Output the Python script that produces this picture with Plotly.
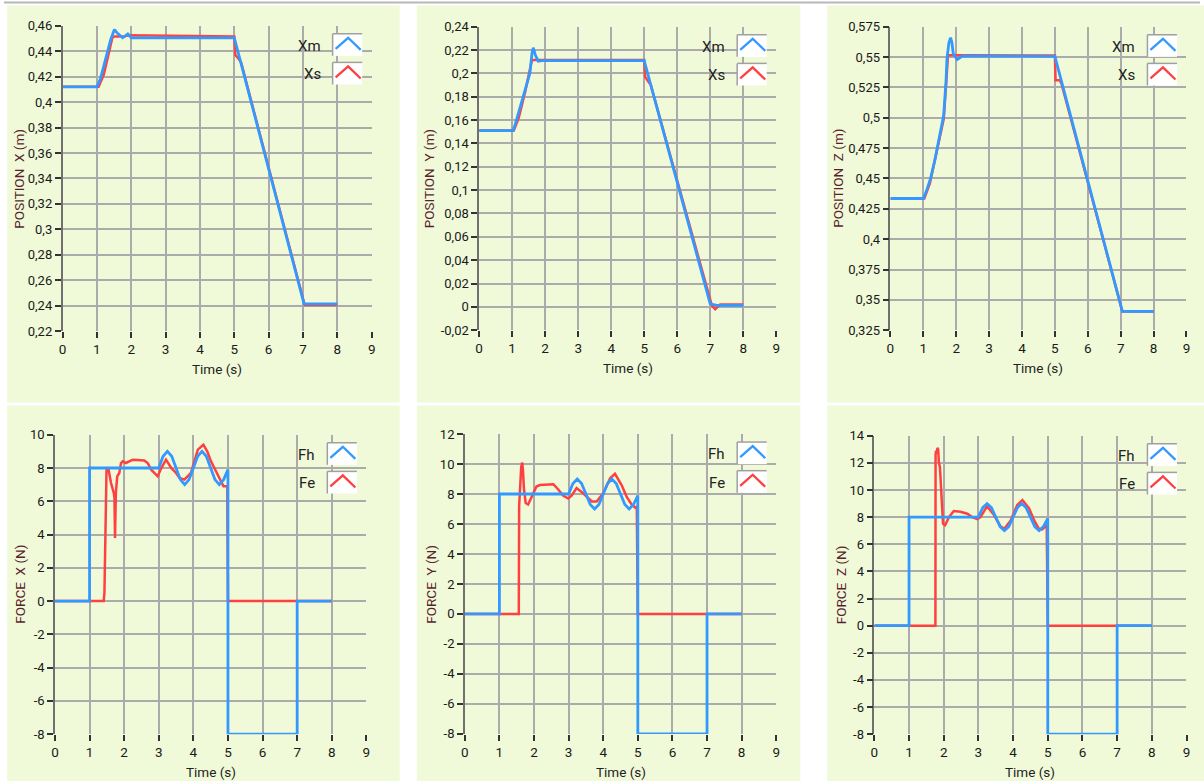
import plotly.graph_objects as go

# ---------------- data ----------------
time_ticks = [0, 1, 2, 3, 4, 5, 6, 7, 8, 9]

# Position X
xm_t = [0, 1.0, 1.1, 1.26, 1.4, 1.51, 1.6, 1.75, 1.9, 2.0, 5.0, 5.2, 7.03, 8.0]
xm_v = [0.412, 0.412, 0.418, 0.435, 0.449, 0.457, 0.454, 0.4505, 0.4535, 0.4505, 0.4505, 0.430, 0.2415, 0.2415]
xs_t = [0, 1.05, 1.2, 1.3, 1.45, 1.5, 1.8, 1.9, 5.0, 5.03, 5.1, 5.2, 7.05, 8.0]
xs_v = [0.412, 0.412, 0.4215, 0.434, 0.4505, 0.4515, 0.4515, 0.4525, 0.4515, 0.437, 0.435, 0.431, 0.2405, 0.2405]

# Position Y
ym_t = [0, 1.03, 1.1, 1.23, 1.4, 1.54, 1.6, 1.64, 1.7, 1.79, 1.9, 5.0, 7.0, 7.2, 8.0]
ym_v = [0.151, 0.151, 0.157, 0.170, 0.186, 0.2004, 0.217, 0.222, 0.216, 0.2105, 0.211, 0.211, 0.0025, 0.0012, 0.0012]
ys_t = [0, 1.05, 1.2, 1.4, 1.55, 1.6, 5.0, 5.03, 5.1, 5.2, 7.05, 7.15, 7.3, 8.0]
ys_v = [0.151, 0.151, 0.162, 0.185, 0.205, 0.2115, 0.2115, 0.197, 0.194, 0.190, 0.001, -0.002, 0.002, 0.002]

# Position Z
zm_t = [0, 1.0, 1.1, 1.22, 1.35, 1.47, 1.62, 1.69, 1.72, 1.78, 1.83, 1.87, 1.91, 2.03, 2.2, 5.0, 7.05, 8.0]
zm_v = [0.4335, 0.4335, 0.44, 0.45, 0.465, 0.4805, 0.502, 0.530, 0.549, 0.562, 0.566, 0.562, 0.553, 0.548, 0.551, 0.5505, 0.3405, 0.3405]
zs_t = [0, 1.03, 1.2, 1.47, 1.62, 1.7, 1.75, 2.4, 5.0, 5.02, 5.15, 5.2, 7.05, 8.0]
zs_v = [0.4335, 0.4335, 0.446, 0.479, 0.499, 0.53, 0.5515, 0.5515, 0.5512, 0.531, 0.531, 0.528, 0.3405, 0.3405]

# Human force Fh (same command in the three axes)
fh_t = [0, 1, 1, 3, 3.125, 3.25, 3.375, 3.5, 3.625, 3.75, 3.875, 4.0, 4.125, 4.25,
        4.375, 4.5, 4.625, 4.75, 4.875, 5.0, 5.0, 7.0, 7.0, 8.0]
fh_v = [0, 0, 8, 8, 8.7, 9.0, 8.7, 8.0, 7.3, 7.0, 7.3, 8.0, 8.7, 9.0,
        8.7, 8.0, 7.3, 7.0, 7.3, 7.9, -8, -8, 0, 0]

# Environment force Fe
fex_t = [0, 1.41, 1.43, 1.45, 1.47, 1.49, 1.55, 1.62, 1.70, 1.72, 1.736, 1.76, 1.80, 1.86,
         1.91, 1.96, 2.05, 2.15, 2.25, 2.58, 2.68, 2.78, 2.87, 2.97, 3.05, 3.21, 3.36, 3.50,
         3.60, 3.74, 3.93, 4.13, 4.29, 4.40, 4.51, 4.66, 4.80, 4.87, 4.98, 5.0, 8.0]
fex_v = [0, 0, 0.5, 4.0, 5.8, 7.9, 7.9, 7.1, 6.5, 6.2, 3.8, 6.5, 7.5, 7.7,
         8.3, 8.4, 8.3, 8.4, 8.5, 8.45, 8.3, 7.9, 7.7, 7.5, 7.9, 8.5, 8.0, 7.7,
         7.4, 7.3, 7.7, 9.1, 9.4, 9.0, 8.4, 7.8, 7.2, 6.9, 6.9, 0, 0]
fey_t = [0, 1.56, 1.57, 1.60, 1.63, 1.66, 1.68, 1.71, 1.76, 1.83, 1.93, 2.07, 2.17, 2.46,
         2.56, 2.70, 2.84, 2.99, 3.09, 3.23, 3.42, 3.67, 3.81, 4.0, 4.2, 4.34, 4.53, 4.68,
         4.82, 4.92, 4.97, 5.0, 8.0]
fey_v = [0, 0, 7.2, 8.5, 9.8, 10.1, 9.6, 8.3, 7.4, 7.3, 7.8, 8.5, 8.6, 8.6,
         8.65, 8.3, 7.9, 7.7, 7.9, 8.4, 8.05, 7.5, 7.5, 8.05, 9.05, 9.35, 8.6, 7.8,
         7.3, 7.1, 7.15, 0, 0]
fez_t = [0, 1.76, 1.765, 1.78, 1.80, 1.82, 1.84, 1.86, 1.89, 1.93, 1.98, 2.04, 2.15, 2.29,
         2.48, 2.68, 2.82, 2.97, 3.06, 3.25, 3.45, 3.64, 3.75, 3.93, 4.12, 4.27, 4.46, 4.60,
         4.74, 4.84, 4.94, 4.97, 5.0, 8.0]
fez_v = [0, 0, 12.6, 12.9, 12.7, 13.1, 13.0, 12.0, 11.7, 9.3, 7.5, 7.4, 8.0, 8.45,
         8.4, 8.25, 8.0, 7.85, 8.0, 8.8, 8.15, 7.3, 7.15, 7.75, 8.9, 9.25, 8.65, 7.8,
         7.15, 7.1, 7.35, 7.4, 0, 0]

# tick values / labels
posx_ticks = [0.22, 0.24, 0.26, 0.28, 0.30, 0.32, 0.34, 0.36, 0.38, 0.40, 0.42, 0.44, 0.46]
posx_labels = ["0,22", "0,24", "0,26", "0,28", "0,3", "0,32", "0,34", "0,36", "0,38", "0,4", "0,42", "0,44", "0,46"]
posy_ticks = [-0.02, 0, 0.02, 0.04, 0.06, 0.08, 0.10, 0.12, 0.14, 0.16, 0.18, 0.20, 0.22, 0.24]
posy_labels = ["-0,02", "0", "0,02", "0,04", "0,06", "0,08", "0,1", "0,12", "0,14", "0,16", "0,18", "0,2", "0,22", "0,24"]
posz_ticks = [0.325, 0.35, 0.375, 0.40, 0.425, 0.45, 0.475, 0.50, 0.525, 0.55, 0.575]
posz_labels = ["0,325", "0,35", "0,375", "0,4", "0,425", "0,45", "0,475", "0,5", "0,525", "0,55", "0,575"]
fx_ticks = [-8, -6, -4, -2, 0, 2, 4, 6, 8, 10]
fy_ticks = [-8, -6, -4, -2, 0, 2, 4, 6, 8, 10, 12]
fz_ticks = [-8, -6, -4, -2, 0, 2, 4, 6, 8, 10, 12, 14]

# ---------------- styling ----------------
W, H = 1204, 781
BLUE = "#3399ff"
RED = "#ff4040"
PANEL_BG = "#f0f9d8"
GRID = "#ababab"
FONT = "Roboto, sans-serif"
TITLE_COL = "#5a1f2e"
TICK_SIZE = 13

# compensation for the slight shrink seen in the captured picture
SX, SY = 0.992, 0.976
CX, CY = W / 2, H / 2


def PX(x):
    r = CX + (x - CX) / SX
    return r / W


def PY(y):
    r = CY + (y - CY) / SY
    return 1 - r / H


# plot areas in pixels (target picture): left, right, top, bottom
panels = [
    dict(box=(63.3, 372, 28, 332), yr=(0.22, 0.46), tv=posx_ticks, tt=posx_labels,
         ytitle="POSITION  X (m)", names=("Xm", "Xs"),
         blue=(xm_t, xm_v), red=(xs_t, xs_v), ytx=20),
    dict(box=(479.3, 776, 29, 331), yr=(-0.02, 0.24), tv=posy_ticks, tt=posy_labels,
         ytitle="POSITION  Y (m)", names=("Xm", "Xs"),
         blue=(ym_t, ym_v), red=(ys_t, ys_v), ytx=430),
    dict(box=(890, 1185.7, 29, 331), yr=(0.325, 0.575), tv=posz_ticks, tt=posz_labels,
         ytitle="POSITION  Z (m)", names=("Xm", "Xs"),
         blue=(zm_t, zm_v), red=(zs_t, zs_v), ytx=838),
    dict(box=(55.7, 366.7, 435, 733), yr=(-8, 10), tv=fx_ticks, tt=[str(v) for v in fx_ticks],
         ytitle="FORCE  X (N)", names=("Fh", "Fe"),
         blue=(fh_t, fh_v), red=(fex_t, fex_v), ytx=21),
    dict(box=(465, 776, 434.3, 732.7), yr=(-8, 12), tv=fy_ticks, tt=[str(v) for v in fy_ticks],
         ytitle="FORCE  Y (N)", names=("Fh", "Fe"),
         blue=(fh_t, fh_v), red=(fey_t, fey_v), ytx=431),
    dict(box=(874, 1185.7, 436, 733), yr=(-8, 14), tv=fz_ticks, tt=[str(v) for v in fz_ticks],
         ytitle="FORCE  Z (N)", names=("Fh", "Fe"),
         blue=(fh_t, fh_v), red=(fez_t, fez_v), ytx=841),
]

fig = go.Figure()
shapes = []
annotations = []

# panel backgrounds
for (x0, x1, y0, y1) in [(8, 400, 8, 403), (417, 800, 8, 403), (827, 1214, 8, 403),
                         (8, 400, 406, 800), (417, 800, 406, 800), (827, 1214, 406, 800)]:
    shapes.append(dict(type="rect", xref="paper", yref="paper", x0=PX(x0), x1=PX(x1),
                       y0=PY(y1), y1=PY(y0), fillcolor=PANEL_BG, line=dict(width=0), layer="below"))
shapes.append(dict(type="line", xref="paper", yref="paper", x0=0, x1=1, y0=PY(5), y1=PY(5),
                   line=dict(color="#b8b8b8", width=2)))

layout = {}
for i, p in enumerate(panels):
    n = i + 1
    xa = "xaxis" if n == 1 else f"xaxis{n}"
    ya = "yaxis" if n == 1 else f"yaxis{n}"
    xr = "x" if n == 1 else f"x{n}"
    yr = "y" if n == 1 else f"y{n}"
    L, R, T, B = p["box"]
    layout[xa] = dict(domain=[PX(L), PX(R)], range=[0, 9], anchor=yr,
                      tickmode="array", tickvals=time_ticks, ticktext=[str(v) for v in time_ticks],
                      showgrid=True, gridcolor=GRID, gridwidth=1.5, zeroline=False,
                      showline=False, ticks="outside", ticklen=6, tickwidth=1.5, tickcolor="#333",
                      tickfont=dict(family=FONT, size=TICK_SIZE + 0.5, color="#1a1a1a"), fixedrange=True)
    layout[ya] = dict(domain=[PY(B), PY(T)], range=list(p["yr"]), anchor=xr,
                      tickmode="array", tickvals=p["tv"], ticktext=p["tt"],
                      showgrid=True, gridcolor=GRID, gridwidth=1.5, zeroline=False,
                      showline=True, linecolor="#707070", linewidth=1.5,
                      ticks="outside", ticklen=6, tickwidth=1.5, tickcolor="#333",
                      tickfont=dict(family=FONT, size=TICK_SIZE, color="#1a1a1a"), fixedrange=True)

    rt, rv = p["red"]
    bt, bv = p["blue"]
    fig.add_trace(go.Scatter(x=rt, y=rv, mode="lines", name=p["names"][1], xaxis=xr, yaxis=yr,
                             line=dict(color=RED, width=2.5), showlegend=False))
    fig.add_trace(go.Scatter(x=bt, y=bv, mode="lines", name=p["names"][0], xaxis=xr, yaxis=yr,
                             line=dict(color=BLUE, width=2.8), showlegend=False))

    # axis titles
    annotations.append(dict(xref="paper", yref="paper", x=PX(p["ytx"]), y=PY((T + B) / 2),
                            text=p["ytitle"], textangle=-90, showarrow=False,
                            xanchor="center", yanchor="middle",
                            font=dict(family=FONT, size=13.5, color=TITLE_COL)))
    annotations.append(dict(xref="paper", yref="paper", x=PX((L + R) / 2), y=PY(B + 38),
                            text="Time (s)", showarrow=False, xanchor="center", yanchor="middle",
                            font=dict(family=FONT, size=13.5, color="#222")))

    # custom legend (text left of sample box, as in the reference)
    bx1 = R - 9.5
    bx0 = bx1 - 29.5
    for k, (nm, col) in enumerate([(p["names"][0], BLUE), (p["names"][1], RED)]):
        by0 = T + 8 + k * 28.5
        by1 = by0 + 22
        shapes.append(dict(type="rect", xref="paper", yref="paper", x0=PX(bx0), x1=PX(bx1),
                           y0=PY(by1), y1=PY(by0), fillcolor="white", line=dict(width=0), layer="above"))
        shapes.append(dict(type="line", xref="paper", yref="paper", x0=PX(bx0), x1=PX(bx1),
                           y0=PY(by0), y1=PY(by0), line=dict(color="#a0a0a0", width=1.5)))
        shapes.append(dict(type="line", xref="paper", yref="paper", x0=PX(bx0), x1=PX(bx0),
                           y0=PY(by0), y1=PY(by1), line=dict(color="#a0a0a0", width=1.5)))
        path = (f"M {PX(bx0 + 3)},{PY(by0 + 15)} L {PX(bx0 + 15.5)},{PY(by0 + 4)} "
                f"L {PX(bx0 + 28)},{PY(by0 + 16)}")
        shapes.append(dict(type="path", xref="paper", yref="paper", path=path,
                           line=dict(color=col, width=2.3), layer="above"))
        annotations.append(dict(xref="paper", yref="paper", x=PX(bx0 - 10), y=PY(by0 + 12),
                                text=nm, showarrow=False, xanchor="right", yanchor="middle",
                                font=dict(family=FONT, size=15, color="#222")))

fig.update_layout(width=W, height=H, autosize=False, margin=dict(l=0, r=0, t=0, b=0),
                  paper_bgcolor="white", plot_bgcolor="white",
                  shapes=shapes, annotations=annotations, showlegend=False, **layout)

fig.write_html(
    "out.html",
    config={"displayModeBar": False},
    post_script=(
        "document.documentElement.style.margin='0';"
        "document.body.style.margin='0';document.body.style.overflow='hidden';"
        "var d=document.getElementById('{plot_id}');"
        "d.style.position='fixed';d.style.left='0px';d.style.top='0px';"
    ),
)
